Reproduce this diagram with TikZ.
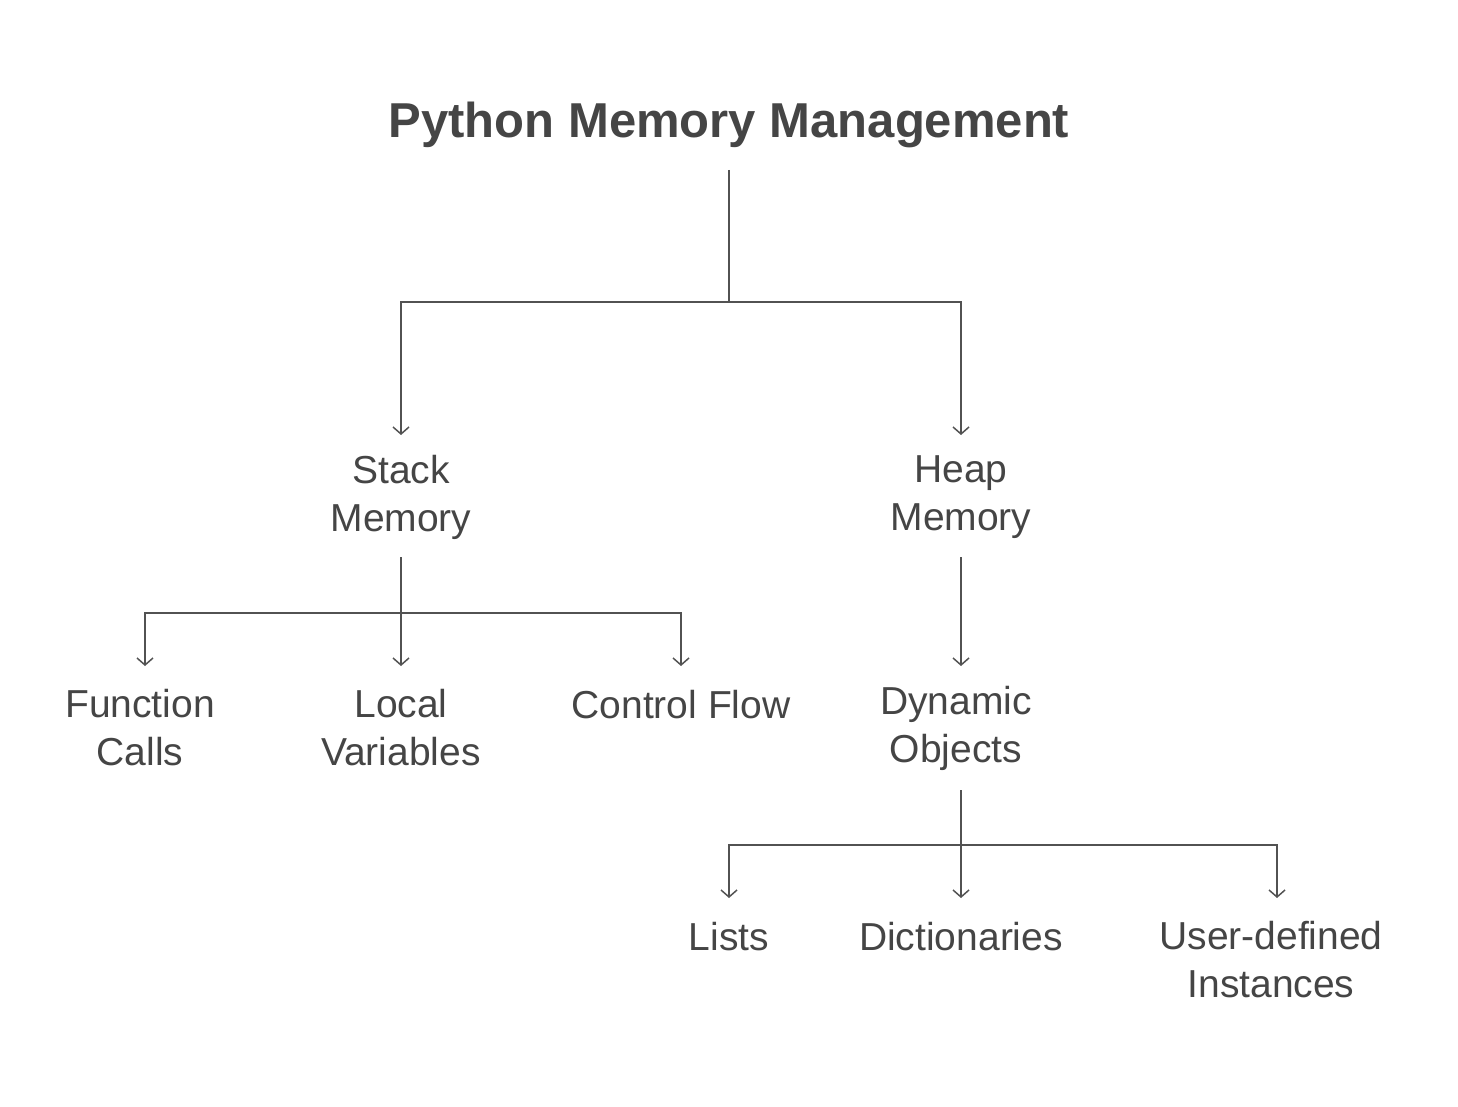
\documentclass[tikz,border=0pt]{standalone}
\usepackage{fontspec}
\setmainfont{Liberation Sans}
\usetikzlibrary{arrows.meta}
\begin{document}
\begin{tikzpicture}[x=1pt,y=-1pt,
  lbl/.style={text=black!73, align=center, font=\fontsize{39}{48}\selectfont, inner sep=0pt},
  conn/.style={draw=black!68, line width=1.5pt},
  arr/.style={conn, -{Straight Barb[length=7pt,width=16pt,line width=1.5pt]}}]
\useasboundingbox (0,0) rectangle (1458,1107);
\node[lbl, font=\bfseries\fontsize{49}{58}\selectfont] (title) at (729,125) {Python Memory Management};
\node[lbl] (stack) at (401,497) {Stack\\Memory};
\node[lbl] (heap) at (961,497) {Heap\\Memory};
\node[lbl] (func) at (140,728) {Function\\Calls};
\node[lbl] (local) at (401,728) {Local\\Variables};
\node[lbl] (ctrl) at (681,705) {Control Flow};
\node[lbl] (dyn) at (956,728) {Dynamic\\Objects};
\node[lbl] (lists) at (729,937) {Lists};
\node[lbl] (dict) at (961,937) {Dictionaries};
\node[lbl] (user) at (1271,960) {User-defined\\Instances};
% coordinates
\coordinate (t0) at (729,170); \coordinate (t1) at (729,302);
\coordinate (s0) at (401,302); \coordinate (s1) at (401,435);
\coordinate (h0) at (961,302); \coordinate (h1) at (961,435);
\coordinate (sa) at (401,557); \coordinate (sb) at (401,613);
\coordinate (f0) at (145,613); \coordinate (f1) at (145,666);
\coordinate (l1) at (401,666);
\coordinate (c0) at (681,613); \coordinate (c1) at (681,666);
\coordinate (ha) at (961,557); \coordinate (hb) at (961,666);
\coordinate (da) at (961,790); \coordinate (db) at (961,845);
\coordinate (li0) at (729,845); \coordinate (li1) at (729,898);
\coordinate (di1) at (961,898);
\coordinate (u0) at (1277,845); \coordinate (u1) at (1277,898);
\draw[conn] (t0) -- (t1);
\draw[arr] (t1) -- (s0) -- (s1);
\draw[arr] (t1) -- (h0) -- (h1);
\draw[arr] (sa) -- (l1);
\draw[arr] (sb) -- (f0) -- (f1);
\draw[arr] (sb) -- (c0) -- (c1);
\draw[arr] (ha) -- (hb);
\draw[arr] (da) -- (di1);
\draw[arr] (db) -- (li0) -- (li1);
\draw[arr] (db) -- (u0) -- (u1);
\end{tikzpicture}
\end{document}
